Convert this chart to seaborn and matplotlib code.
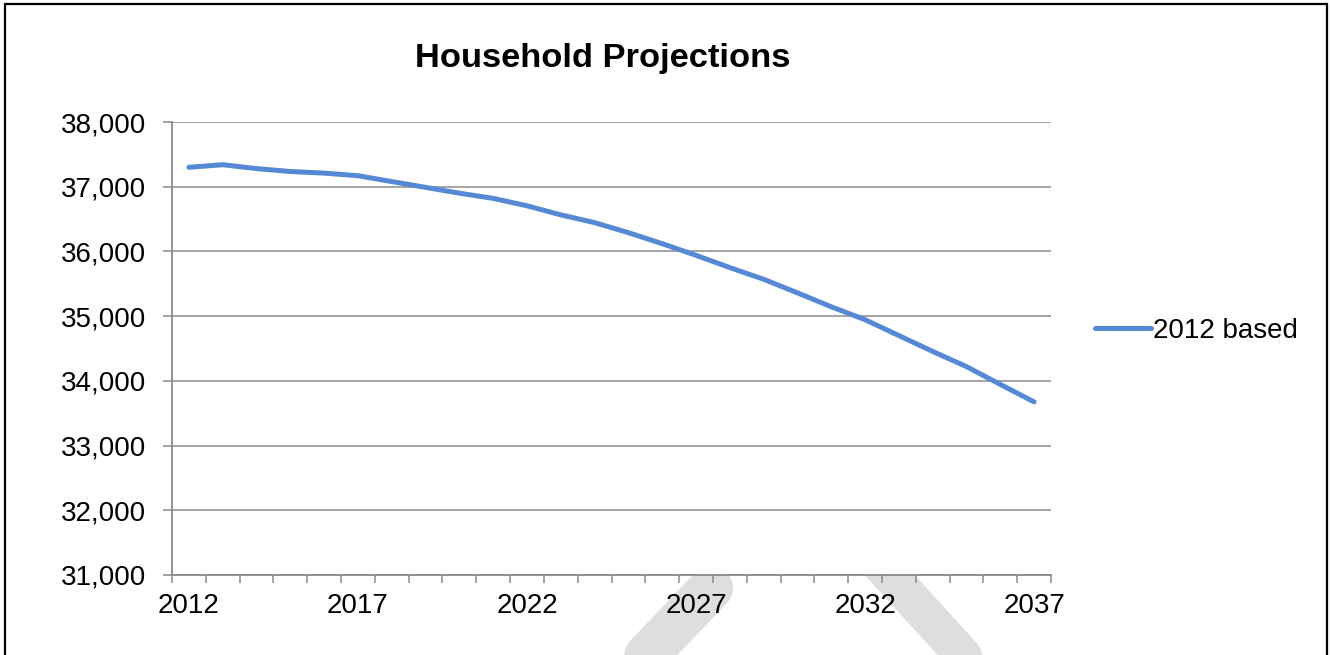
import matplotlib
matplotlib.use("Agg")
import matplotlib.pyplot as plt
from matplotlib.lines import Line2D
from matplotlib.patches import Rectangle, Circle
from matplotlib.ticker import FuncFormatter, MultipleLocator, FixedLocator
import numpy as np
import pandas as pd
import seaborn as sns

# Household projection series (2012 based)
years = list(range(2012, 2038))
households = [37300, 37340, 37280, 37235, 37210, 37170, 37080, 36990, 36900,
              36820, 36705, 36565, 36445, 36290, 36120, 35940, 35750, 35570,
              35360, 35145, 34945, 34700, 34455, 34220, 33945, 33675]
series_name = "2012 based"
title = "Household Projections"
year_labels = [2012, 2017, 2022, 2027, 2032, 2037]

df = pd.DataFrame({"Year": years, "Households": households, "Series": series_name})

sns.set_style("white")
plt.rcParams["font.family"] = ["Liberation Sans", "DejaVu Sans"]
plt.rcParams["text.color"] = "black"

W, H, DPI = 1330, 655, 100
fig = plt.figure(figsize=(W / DPI, H / DPI), dpi=DPI)
fig.patch.set_facecolor("white")

def fx(px):
    return px / W

def fy(py):
    return 1 - py / H

ax = fig.add_axes([fx(172), fy(575), fx(1051) - fx(172), fy(122) - fy(575)])
ax.set_facecolor("white")
ax.set_zorder(1)

line_color = "#5589d6"
grid_color = "#8a8a8a"
lw = 3.6
fs = 20

sns.lineplot(data=df, x="Year", y="Households", hue="Series", ax=ax,
             palette=[line_color], linewidth=lw, legend=False)
for ln in ax.lines:
    ln.set_solid_capstyle("round")
    ln.set_solid_joinstyle("round")

ax.set_xlim(2011.5, 2037.5)
ax.set_ylim(31000, 38000)
ax.yaxis.set_major_locator(MultipleLocator(1000))
ax.yaxis.set_major_formatter(FuncFormatter(lambda v, p: f"{int(v):,}"))
ax.xaxis.set_major_locator(FixedLocator(year_labels))
ax.xaxis.set_minor_locator(FixedLocator(np.arange(2011.5, 2038.0, 1.0)))
ax.set_xlabel("")
ax.set_ylabel("")

ax.grid(axis="y", color=grid_color, linewidth=1.1)
ax.grid(axis="x", visible=False)
ax.set_axisbelow(True)

for side in ["top", "right"]:
    ax.spines[side].set_visible(False)
for side in ["left", "bottom"]:
    ax.spines[side].set_color(grid_color)
    ax.spines[side].set_linewidth(1.3)

ax.tick_params(axis="y", which="major", left=True, length=6.5, width=1.1,
               color=grid_color, labelsize=fs, pad=12, labelcolor="black")
ax.tick_params(axis="x", which="major", bottom=True, length=0,
               labelsize=fs, pad=13, labelcolor="black")
ax.tick_params(axis="x", which="minor", bottom=True, length=6, width=1.1,
               color=grid_color)

# legend at the right
handle = Line2D([], [], color=line_color, linewidth=lw, solid_capstyle="round")
leg = ax.legend([handle], [series_name], loc="center left",
                bbox_to_anchor=(fx(1095), fy(331)), bbox_transform=fig.transFigure,
                frameon=False, fontsize=fs, handlelength=2.0, handletextpad=0.1,
                borderpad=0, borderaxespad=0)
for t in leg.get_texts():
    t.set_color("black")

fig.text(fx(603), fy(58), title, ha="center", va="center",
         fontsize=24.8, fontweight="bold", color="black")

# faint diagonal watermark strokes behind the plot area
wm = "#dedede"
def stroke(x0, y0, x1, y1, width_px):
    fig.add_artist(Line2D([fx(x0), fx(x1)], [fy(y0), fy(y1)],
                          transform=fig.transFigure, color=wm,
                          linewidth=width_px * 72 / DPI,
                          solid_capstyle="round", zorder=-1))

stroke(585, 720, 711, 588, 44)
stroke(845, 526, 1010, 707, 37)
fig.add_artist(Circle((fx(753), fy(571)), 6 / W, transform=fig.transFigure,
                      color=wm, zorder=-1))

# outer frame of the chart
fig.add_artist(Rectangle((fx(4.5), fy(700)), fx(1327) - fx(4.5), fy(4.5) - fy(700),
                         transform=fig.transFigure, fill=False,
                         edgecolor="black", linewidth=1.6, zorder=3))

fig.savefig("out.png", dpi=DPI, facecolor="white")
